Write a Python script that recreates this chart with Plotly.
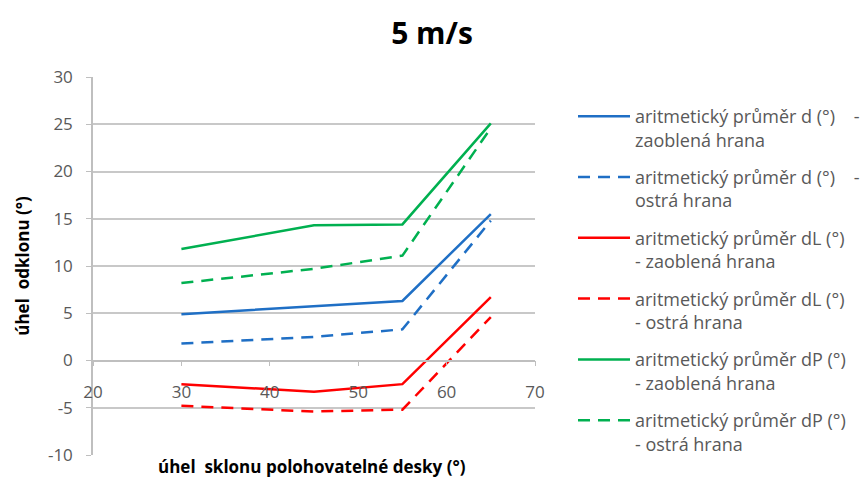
import plotly.graph_objects as go

# Board tilt angle (x) and mean deflection angles for each measurement
tilt_angle = [30, 45, 55, 65]

d_rounded = [4.9, 5.7, 6.3, 15.5]
d_sharp = [1.8, 2.5, 3.3, 14.8]
dL_rounded = [-2.5, -3.3, -2.5, 6.7]
dL_sharp = [-4.8, -5.4, -5.2, 4.6]
dP_rounded = [11.8, 14.3, 14.4, 25.1]
dP_sharp = [8.2, 9.7, 11.1, 24.6]

y_tick_vals = [-10, -5, 0, 5, 10, 15, 20, 25, 30]
y_tick_text = ["-10", "-5", "0", "5", "10", "15", "20", "25", "30"]

NB = "\u00a0"
series = [
    ("aritmetický průměr d (°)" + NB * 4 + "-<br>zaoblená hrana", d_rounded, "#1F6FC5", "solid"),
    ("aritmetický průměr d (°)" + NB * 4 + "-<br>ostrá hrana", d_sharp, "#1F6FC5", "12px,8px"),
    ("aritmetický průměr dL (°)<br>- zaoblená hrana", dL_rounded, "#FF0000", "solid"),
    ("aritmetický průměr dL (°)<br>- ostrá hrana", dL_sharp, "#FF0000", "12px,8px"),
    ("aritmetický průměr dP (°)<br>- zaoblená hrana", dP_rounded, "#00B050", "solid"),
    ("aritmetický průměr dP (°)<br>- ostrá hrana", dP_sharp, "#00B050", "12px,8px"),
]

fig = go.Figure()
for i, (name, values, color, dash) in enumerate(series):
    fig.add_trace(go.Scatter(
        x=tilt_angle, y=values, name=name, mode="lines",
        legendgroup=f"g{i}",
        line=dict(color=color, width=2.5, dash=dash),
    ))

FONT = "Open Sans"
GRAY = "#595959"

fig.update_layout(
    width=866, height=480,
    margin=dict(l=93, r=331, t=77, b=25),
    paper_bgcolor="white", plot_bgcolor="white",
    font=dict(family=FONT, color=GRAY),
    title=dict(text="<b>5 m/s</b>", x=432 / 866, xref="container", xanchor="center",
               y=1 - 33 / 480, yanchor="middle",
               font=dict(family=FONT, size=30, color="#000000")),
    showlegend=True,
    legend=dict(
        xref="container", yref="container",
        x=573 / 866, y=1 - 98 / 480, xanchor="left", yanchor="top",
        font=dict(family=FONT, size=18, color=GRAY),
        valign="top", tracegroupgap=11, itemwidth=52,
        maxheight=470,
        bgcolor="rgba(0,0,0,0)",
    ),
    xaxis=dict(
        range=[20, 70], dtick=10, tick0=20,
        showgrid=False, zeroline=False,
        showline=True, linecolor="#BFBFBF", linewidth=1.5,
        ticks="outside", ticklen=5, tickcolor="#BFBFBF",
        anchor="free", position=0.25,
        tickfont=dict(family=FONT, size=17, color=GRAY),
        ticklabelstandoff=11,
    ),
    yaxis=dict(
        range=[-10, 30], tickvals=y_tick_vals, ticktext=y_tick_text,
        showgrid=True, gridcolor="#C8C8C8", gridwidth=1.5,
        zeroline=False,
        showline=True, linecolor="#BFBFBF", linewidth=1.5,
        ticks="outside", ticklen=5, tickcolor="#BFBFBF",
        tickfont=dict(family=FONT, size=17, color=GRAY),
        ticklabelstandoff=10,
        title=dict(text="<b>úhel  odklonu (°)</b>", standoff=14,
                   font=dict(family=FONT, size=17, color="#000000")),
    ),
    annotations=[dict(
        text="<b>úhel  sklonu polohovatelné desky (°)</b>",
        xref="paper", yref="paper", x=(312 - 93) / 442, y=(455 - 467) / 378,
        xanchor="center", yanchor="middle", showarrow=False,
        font=dict(family=FONT, size=17, color="#000000"),
    )],
)

fig.write_html("out.html")
